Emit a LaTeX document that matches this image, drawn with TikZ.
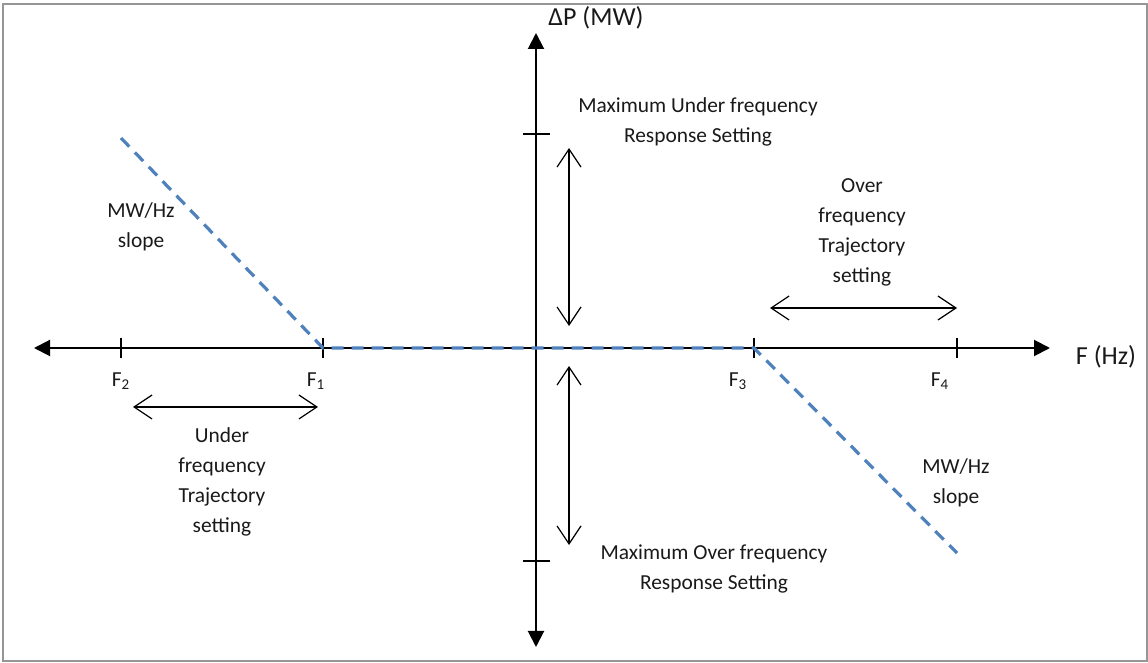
\documentclass[tikz,border=0pt]{standalone}
\usepackage{fontspec}
\setmainfont{Carlito}
\usepackage{xcolor}
\usepackage{tikz}
\usetikzlibrary{arrows.meta}
\usetikzlibrary{positioning}

\definecolor{slopeblue}{RGB}{79,129,189}
\definecolor{framegray}{RGB}{150,150,150}

\begin{document}
\begin{tikzpicture}[x=0.5pt,y=-0.5pt,
    axis/.style={line width=1pt,{Triangle[length=8pt,width=8pt]}-{Triangle[length=8pt,width=8pt]}},
    span/.style={line width=0.6pt,{Straight Barb[length=9pt,width=12pt]}-{Straight Barb[length=9pt,width=12pt]}},
    slope/.style={slopeblue,line width=1.6pt,dash pattern=on 6pt off 4pt},
    lbl/.style={font=\fontsize{10.7}{15}\selectfont,align=center,text=black!90},
    axlbl/.style={font=\fontsize{13}{15}\selectfont,text=black!90}]
        \useasboundingbox (0,0) rectangle (1148,663);
        \draw[framegray,line width=1pt] (2.5,4) rectangle (1146.5,661.5);

        % axes
        \coordinate (xl) at (34,348);
        \coordinate (xr) at (1050,348);
        \coordinate (yt) at (536,33);
        \coordinate (yb) at (536,647);
        \draw[axis] (xl) -- (xr);
        \draw[axis] (yb) -- (yt);
        \node[axlbl] (xlab) at (1106,357) {F (Hz)};
        \node[axlbl] (ylab) at (596,18) {ΔP (MW)};

        % frequency ticks
        \foreach \name/\x in {f2/121,f1/323,f3/754,f4/957} {
            \coordinate (\name) at (\x,348);
            \draw[line width=1pt] (\x,338) -- (\x,358);
        }
        \node[lbl] (f2lab) at (121,381) {F\textsubscript{2}};
        \node[lbl] (f1lab) at (316,381) {F\textsubscript{1}};
        \node[lbl] (f3lab) at (738,381) {F\textsubscript{3}};
        \node[lbl] (f4lab) at (940,381) {F\textsubscript{4}};

        % power limits
        \coordinate (pmax) at (536,134);
        \coordinate (pmin) at (536,561);
        \draw[line width=1pt] (523,134) -- (550,134);
        \draw[line width=1pt] (523,561) -- (550,561);

        % droop characteristic
        \coordinate (ustart) at (121,138);
        \coordinate (oend) at (957,553);
        \draw[slope] (ustart) -- (f1) -- (f3) -- (oend);

        % setting ranges
        \coordinate (a1) at (569,148);
        \coordinate (a2) at (569,326);
        \coordinate (b1) at (569,366);
        \coordinate (b2) at (569,545);
        \coordinate (c1) at (770,308);
        \coordinate (c2) at (957,308);
        \coordinate (d1) at (133,407);
        \coordinate (d2) at (318,407);
        \draw[span] (a1) -- (a2);
        \draw[span] (b1) -- (b2);
        \draw[span] (c1) -- (c2);
        \draw[span] (d1) -- (d2);

        \node[lbl] (maxunder) at (698,122) {Maximum Under frequency\\Response Setting};
        \node[lbl] (maxover) at (714,569) {Maximum Over frequency\\Response Setting};
        \node[lbl] (overtraj) at (862,232) {Over\\frequency\\Trajectory\\setting};
        \node[lbl] (undertraj) at (222,482) {Under\\frequency\\Trajectory\\setting};
        \node[lbl] (uslope) at (141,227) {MW/Hz\\slope};
        \node[lbl] (oslope) at (956,483) {MW/Hz\\slope};
    \end{tikzpicture}
\end{document}
